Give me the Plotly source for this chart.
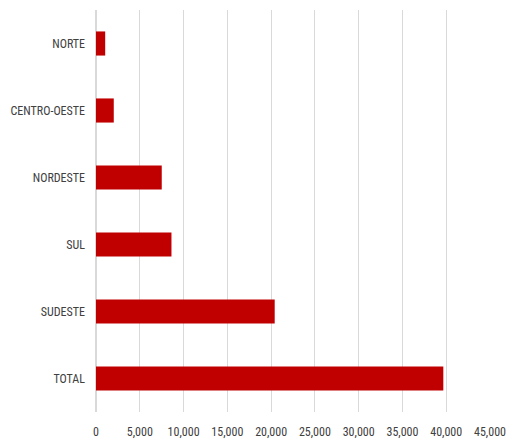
import plotly.graph_objects as go

regions = ["NORTE", "CENTRO-OESTE", "NORDESTE", "SUL", "SUDESTE", "TOTAL"]
values = [1050, 2030, 7510, 8620, 20410, 39670]
tick_vals = [0, 5000, 10000, 15000, 20000, 25000, 30000, 35000, 40000, 45000]
tick_text = ["0", "5,000", "10,000", "15,000", "20,000", "25,000", "30,000", "35,000", "40,000", "45,000"]

font_family = "Liberation Sans Narrow, Arial Narrow, Roboto Condensed, sans-serif"

fig = go.Figure(go.Bar(
    x=values,
    y=regions,
    orientation="h",
    marker=dict(color="#C00000", line=dict(width=0)),
    width=0.36,
))

fig.update_layout(
    width=508,
    height=439,
    margin=dict(l=96, r=18, t=10, b=27, autoexpand=False),
    plot_bgcolor="white",
    paper_bgcolor="white",
    showlegend=False,
    font=dict(family=font_family, size=12, color="#404040"),
    xaxis=dict(
        range=[0, 45000],
        tickvals=tick_vals,
        ticktext=tick_text,
        showgrid=True,
        gridcolor="#D9D9D9",
        gridwidth=1,
        zeroline=True,
        zerolinecolor="#D9D9D9",
        showline=False,
        ticks="",
        ticklabelstandoff=11,
        tickfont=dict(size=12, color="#404040"),
        fixedrange=True,
        automargin=False,
    ),
    yaxis=dict(
        autorange="reversed",
        showgrid=False,
        showline=False,
        ticks="",
        ticklabelstandoff=10,
        tickfont=dict(size=12, color="#404040"),
        fixedrange=True,
        automargin=False,
    ),
)

fig.write_html(
    "out.html",
    config={"displayModeBar": False},
    post_script="document.body.style.margin='0';document.body.style.overflow='hidden';",
)
